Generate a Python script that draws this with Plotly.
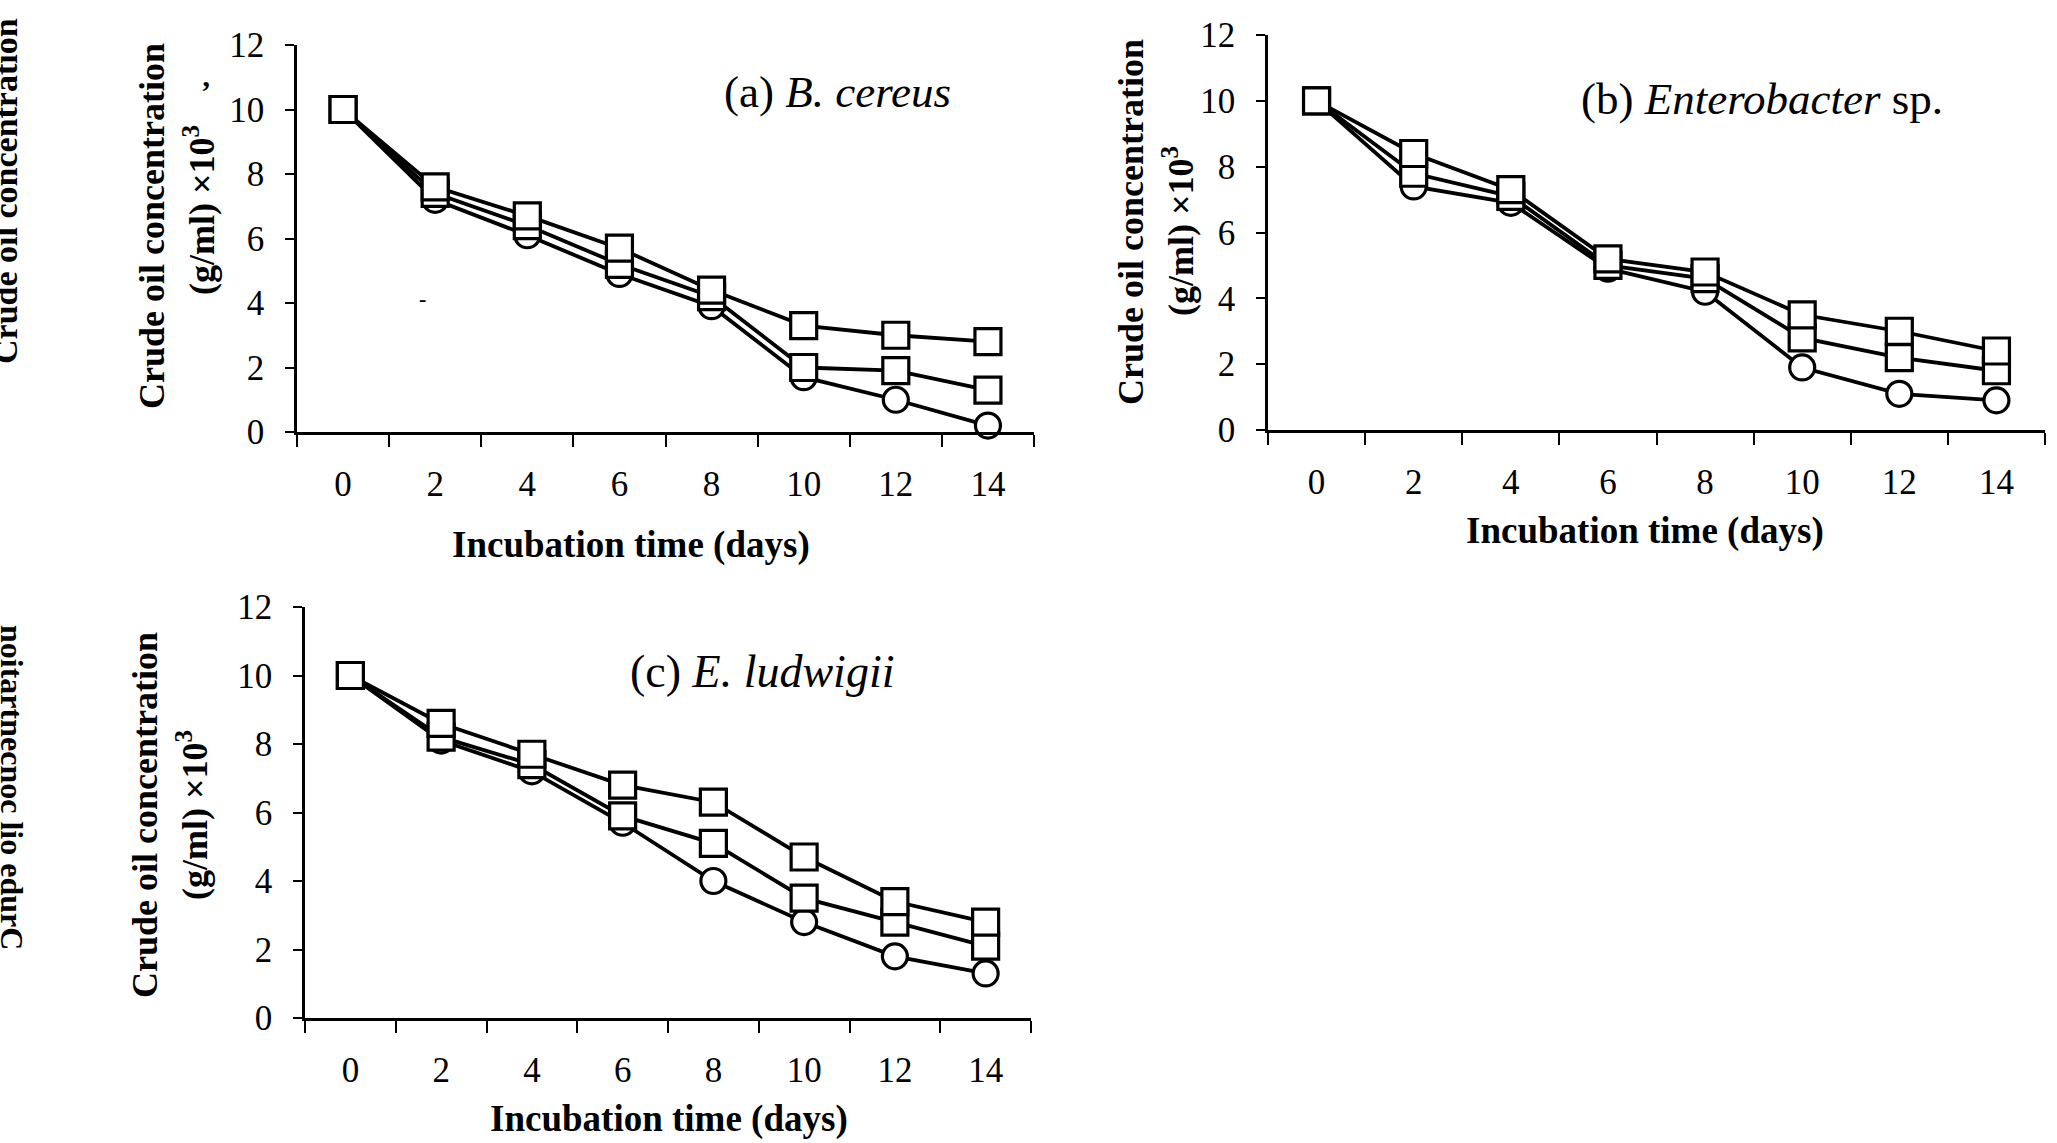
import plotly.graph_objects as go

# ---------------- data ----------------
days = [0, 2, 4, 6, 8, 10, 12, 14]
tick_days = [0, 2, 4, 6, 8, 10, 12, 14]
minor_ticks = [-1, 1, 3, 5, 7, 9, 11, 13, 15]
y_ticks = [0, 2, 4, 6, 8, 10, 12]

# (a) B. cereus
a_upper = [10, 7.6, 6.7, 5.7, 4.4, 3.3, 3.0, 2.8]
a_lower = [10, 7.4, 6.4, 5.2, 4.2, 2.0, 1.9, 1.3]
a_circle = [10, 7.2, 6.1, 4.9, 3.9, 1.7, 1.0, 0.2]

# (b) Enterobacter sp.
b_upper = [10, 8.4, 7.3, 5.2, 4.8, 3.5, 3.0, 2.4]
b_lower = [10, 7.8, 7.1, 5.0, 4.6, 2.8, 2.2, 1.8]
b_circle = [10, 7.4, 6.9, 4.9, 4.2, 1.9, 1.1, 0.9]

# (c) E. ludwigii
c_upper = [10, 8.6, 7.7, 6.8, 6.3, 4.7, 3.4, 2.8]
c_lower = [10, 8.2, 7.4, 5.9, 5.1, 3.5, 2.8, 2.1]
c_circle = [10, 8.1, 7.2, 5.7, 4.0, 2.8, 1.8, 1.3]

panel_titles = ["(a) <i>B. cereus</i>", "(b) <i>Enterobacter</i> sp.", "(c) <i>E. ludwigii</i>"]
y_title_1 = "Crude oil concentration"
y_title_2 = "(g/ml) ×10<sup>3</sup>"
x_title = "Incubation time (days)"

# ---------------- layout helpers ----------------
W, H = 2057, 1143


def px(x):
    return x / W


def py(y):
    return 1 - y / H


SERIF = "Liberation Serif"
BLACK = "black"

panels = [
    dict(xa="x", ya="y", data=(a_circle, a_lower, a_upper),
         xdom=(297, 1034), ydom=(45, 432),
         ytitle=((152, 226), (200, 210)), xtitle=(631, 545), label=(837, 92)),
    dict(xa="x2", ya="y2", data=(b_circle, b_lower, b_upper),
         xdom=(1268, 2045), ydom=(35, 430),
         ytitle=((1131, 222), (1178, 231)), xtitle=(1645, 531), label=(1762, 99)),
    dict(xa="x3", ya="y3", data=(c_circle, c_lower, c_upper),
         xdom=(305, 1031), ydom=(607, 1018),
         ytitle=((145, 815), (192, 815)), xtitle=(669, 1119), label=(762, 671)),
]

fig = go.Figure()

names = ["circles", "lower squares", "upper squares"]
symbols = ["circle", "square", "square"]

for p in panels:
    for vals, nm, sym in zip(p["data"], names, symbols):
        fig.add_trace(go.Scatter(
            x=days, y=vals, xaxis=p["xa"], yaxis=p["ya"], name=nm,
            mode="lines+markers", showlegend=False, cliponaxis=False,
            line=dict(color=BLACK, width=3.8),
            marker=dict(symbol=sym, size=26 if sym == "square" else 25,
                        color="white", line=dict(color=BLACK, width=3.2)),
        ))

annotations = []
layout_axes = {}
for i, p in enumerate(panels):
    sx = "" if i == 0 else str(i + 1)
    layout_axes["xaxis" + sx] = dict(
        domain=[px(p["xdom"][0]), px(p["xdom"][1])], range=[-1, 15],
        anchor=p["ya"], tickmode="array", tickvals=tick_days,
        ticktext=[str(d) for d in tick_days], ticks="",
        showline=True, linecolor=BLACK, linewidth=2.5,
        showgrid=False, zeroline=False, fixedrange=True, automargin=False,
        tickfont=dict(family=SERIF, size=35, color=BLACK),
        ticklabelstandoff=19,
        minor=dict(tickmode="array", tickvals=minor_ticks, ticks="outside",
                   ticklen=12, tickwidth=2, tickcolor=BLACK, showgrid=False),
    )
    layout_axes["yaxis" + sx] = dict(
        domain=[py(p["ydom"][1]), py(p["ydom"][0])], range=[0, 12],
        anchor=p["xa"], tickmode="array", tickvals=y_ticks,
        ticks="outside", ticklen=9, tickwidth=2, tickcolor=BLACK,
        showline=True, linecolor=BLACK, linewidth=2.5,
        showgrid=False, zeroline=False, fixedrange=True, automargin=False,
        tickfont=dict(family=SERIF, size=35, color=BLACK),
        ticklabelstandoff=14,
    )
    (l1x, l1y), (l2x, l2y) = p["ytitle"]
    annotations.append(dict(text="<b>" + y_title_1 + "</b>", x=px(l1x), y=py(l1y),
                            xref="paper", yref="paper", showarrow=False, textangle=-90,
                            xanchor="center", yanchor="middle",
                            font=dict(family=SERIF, size=36, color=BLACK)))
    annotations.append(dict(text="<b>" + y_title_2 + "</b>", x=px(l2x), y=py(l2y),
                            xref="paper", yref="paper", showarrow=False, textangle=-90,
                            xanchor="center", yanchor="middle",
                            font=dict(family=SERIF, size=36, color=BLACK)))
    annotations.append(dict(text="<b>" + x_title + "</b>", x=px(p["xtitle"][0]), y=py(p["xtitle"][1]),
                            xref="paper", yref="paper", showarrow=False,
                            xanchor="center", yanchor="middle",
                            font=dict(family=SERIF, size=37, color=BLACK)))
    annotations.append(dict(text=panel_titles[i], x=px(p["label"][0]), y=py(p["label"][1]),
                            xref="paper", yref="paper", showarrow=False,
                            xanchor="center", yanchor="middle",
                            font=dict(family=SERIF, size=46 if i == 2 else 45, color=BLACK)))

# scan artefacts at the left edge (cropped / mirrored labels) and specks
annotations.append(dict(text="<b>" + y_title_1 + "</b>", x=px(6), y=py(191),
                        xref="paper", yref="paper", showarrow=False, textangle=-90,
                        xanchor="center", yanchor="middle",
                        font=dict(family=SERIF, size=34, color=BLACK)))
annotations.append(dict(text="<b>" + y_title_1[::-1] + "</b>", x=px(12), y=py(787),
                        xref="paper", yref="paper", showarrow=False, textangle=90,
                        xanchor="center", yanchor="middle",
                        font=dict(family=SERIF, size=32, color=BLACK)))
annotations.append(dict(text="<b>’</b>", x=px(199), y=py(72),
                        xref="paper", yref="paper", showarrow=False,
                        font=dict(family=SERIF, size=30, color=BLACK)))
annotations.append(dict(text="<b>-</b>", x=px(417), y=py(284),
                        xref="paper", yref="paper", showarrow=False,
                        font=dict(family=SERIF, size=22, color=BLACK)))

fig.update_layout(
    width=W, height=H, autosize=False,
    margin=dict(l=0, r=0, t=0, b=0, pad=0, autoexpand=False),
    paper_bgcolor="white", plot_bgcolor="white",
    showlegend=False, annotations=annotations,
    **layout_axes,
)

fig.write_html("out.html", config={"displayModeBar": False},
               post_script="document.body.style.margin='0px';")
